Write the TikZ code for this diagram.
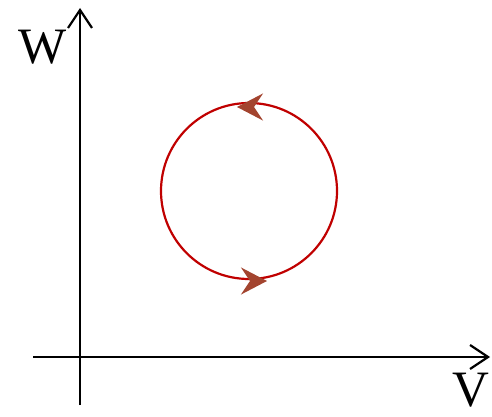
\documentclass[tikz,border=0pt]{standalone}
\usepackage{fontspec}
\setmainfont{Liberation Serif}
\usepackage{xcolor}
\usetikzlibrary{arrows.meta, decorations.markings}

\definecolor{looped}{RGB}{192,0,0}
\definecolor{tipbrown}{RGB}{163,68,47}
\newcommand{\flowtip}{\arrow[tipbrown]{Stealth[length=26pt, width=27pt, inset=9pt]}}

\begin{document}
\begin{tikzpicture}[x=1pt, y=1pt,
          axis/.style={line width=2.2pt, -{Straight Barb[length=18pt, width=24pt, line width=2.2pt]}},
          lbl/.style={font=\fontsize{51}{51}\selectfont, inner sep=0pt},
          orbit/.style={draw=looped, line width=2.2pt,
                        postaction={decorate, decoration={markings,
                          mark=at position 0.25 with {\begin{scope}[xshift=12pt, yshift=4pt]\flowtip\end{scope}},
                          mark=at position 0.75 with {\begin{scope}[xshift=18pt, yshift=-2pt]\flowtip\end{scope}}}}}]
          \useasboundingbox (0,0) rectangle (492,416);
          \coordinate (vlo) at (80,11);   \coordinate (vhi) at (80,408);
          \coordinate (hlo) at (33,59);   \coordinate (hhi) at (490,59);
          \draw[axis] (vlo) -- (vhi);
          \draw[axis] (hlo) -- (hhi);
          \node[lbl] (wlab) at (43,369) {W};
          \node[lbl] (vlab) at (471,26) {V};
          \coordinate (ctr) at (249,225);
          \path[orbit] (ctr) circle[radius=88];
        \end{tikzpicture}
\end{document}
